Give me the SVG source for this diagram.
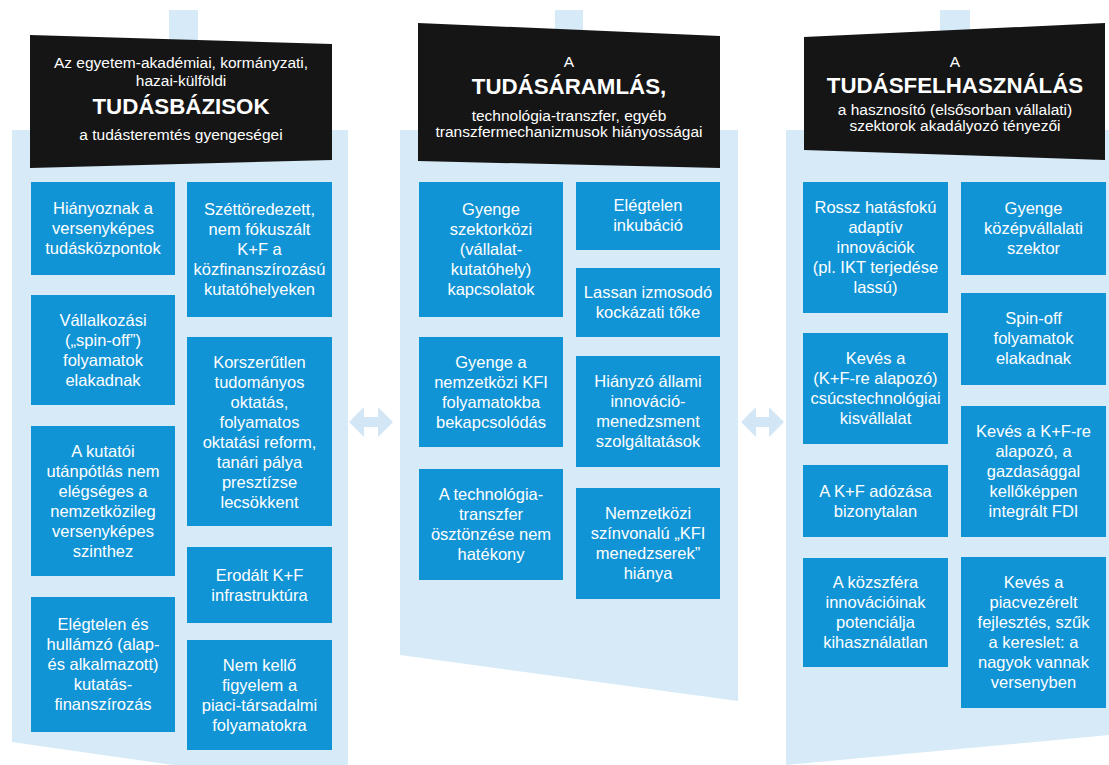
<svg xmlns="http://www.w3.org/2000/svg" width="1109" height="765" viewBox="0 0 1109 765">
<style>
.bg{fill:#d6eaf8}
.hdr{fill:#151515}
.box{fill:#1094d6}
.arr{fill:#d3e6f5}
text{font-family:"Liberation Sans",Arial,sans-serif;fill:#ffffff;text-anchor:middle}
.t{font-size:16.5px}
.hs{font-size:15.5px}
.hb{font-size:22.3px;font-weight:bold}
</style>
<rect width="1109" height="765" fill="#ffffff"/>
<!-- column backgrounds -->
<g id="col-bg">
<rect class="bg" x="169" y="10" width="29" height="130"/>
<polygon class="bg" points="12,130 348,130 348,790 12,742"/>
<rect class="bg" x="555" y="10" width="28" height="130"/>
<polygon class="bg" points="400,130 738,130 738,701 400,655"/>
<rect class="bg" x="940" y="10" width="30" height="130"/>
<polygon class="bg" points="786,130 1109,130 1109,735 786,765"/>
</g>
<!-- headers -->
<g id="hdr-tudasbazisok">
<polygon class="hdr" points="30,35 332,44 332,160 30,168"/>
<text class="hs" x="181" y="68">Az egyetem-akadémiai, kormányzati,</text>
<text class="hs" x="181" y="86">hazai-külföldi</text>
<text class="hb" x="181" y="114">TUDÁSBÁZISOK</text>
<text class="hs" x="181" y="140">a tudásteremtés gyengeségei</text>
</g>
<g id="hdr-tudasaramlas">
<polygon class="hdr" points="418,23 720,36 720,168 418,161"/>
<text class="hs" x="569" y="67">A</text>
<text class="hb" x="569" y="94">TUDÁSÁRAMLÁS,</text>
<text class="hs" x="569" y="121">technológia-transzfer, egyéb</text>
<text class="hs" x="569" y="137">transzfermechanizmusok hiányosságai</text>
</g>
<g id="hdr-tudasfelhasznalas">
<polygon class="hdr" points="804,37 1105,23 1105,160 804,150"/>
<text class="hs" x="955" y="67">A</text>
<text class="hb" x="955" y="93">TUDÁSFELHASZNÁLÁS</text>
<text class="hs" x="955" y="115">a hasznosító (elsősorban vállalati)</text>
<text class="hs" x="955" y="131">szektorok akadályozó tényezői</text>
</g>
<!-- left column boxes -->
<g id="l1"><rect class="box" x="31" y="182" width="144" height="93"/>
<text class="t" x="103" y="214">Hiányoznak a</text><text class="t" x="103" y="234">versenyképes</text><text class="t" x="103" y="254">tudásközpontok</text></g>
<g id="r1"><rect class="box" x="187" y="182" width="145" height="135"/>
<text class="t" x="259.5" y="215">Széttöredezett,</text><text class="t" x="259.5" y="235">nem fókuszált</text><text class="t" x="259.5" y="255">K+F a</text><text class="t" x="259.5" y="275">közfinanszírozású</text><text class="t" x="259.5" y="295">kutatóhelyeken</text></g>
<g id="l2"><rect class="box" x="31" y="295" width="144" height="110"/>
<text class="t" x="103" y="326">Vállalkozási</text><text class="t" x="103" y="346">(„spin-off”)</text><text class="t" x="103" y="366">folyamatok</text><text class="t" x="103" y="386">elakadnak</text></g>
<g id="r2"><rect class="box" x="187" y="337" width="145" height="189"/>
<text class="t" x="259.5" y="368">Korszerűtlen</text><text class="t" x="259.5" y="388">tudományos</text><text class="t" x="259.5" y="408">oktatás,</text><text class="t" x="259.5" y="428">folyamatos</text><text class="t" x="259.5" y="448">oktatási reform,</text><text class="t" x="259.5" y="468">tanári pálya</text><text class="t" x="259.5" y="488">presztízse</text><text class="t" x="259.5" y="508">lecsökkent</text></g>
<g id="l3"><rect class="box" x="31" y="426" width="144" height="150"/>
<text class="t" x="103" y="457">A kutatói</text><text class="t" x="103" y="477">utánpótlás nem</text><text class="t" x="103" y="497">elégséges a</text><text class="t" x="103" y="517">nemzetközileg</text><text class="t" x="103" y="537">versenyképes</text><text class="t" x="103" y="557">szinthez</text></g>
<g id="r3"><rect class="box" x="187" y="547" width="145" height="76"/>
<text class="t" x="259.5" y="581">Erodált K+F</text><text class="t" x="259.5" y="601">infrastruktúra</text></g>
<g id="l4"><rect class="box" x="31" y="597" width="144" height="135"/>
<text class="t" x="103" y="630">Elégtelen és</text><text class="t" x="103" y="650">hullámzó (alap-</text><text class="t" x="103" y="670">és alkalmazott)</text><text class="t" x="103" y="690">kutatás-</text><text class="t" x="103" y="710">finanszírozás</text></g>
<g id="r4"><rect class="box" x="187" y="640" width="145" height="110"/>
<text class="t" x="259.5" y="671">Nem kellő</text><text class="t" x="259.5" y="691">figyelem a</text><text class="t" x="259.5" y="711">piaci-társadalmi</text><text class="t" x="259.5" y="731">folyamatokra</text></g>
<!-- middle column boxes -->
<g id="ml1"><rect class="box" x="419" y="182" width="144" height="135"/>
<text class="t" x="491" y="215">Gyenge</text><text class="t" x="491" y="235">szektorközi</text><text class="t" x="491" y="255">(vállalat-</text><text class="t" x="491" y="275">kutatóhely)</text><text class="t" x="491" y="295">kapcsolatok</text></g>
<g id="mr1"><rect class="box" x="576" y="182" width="144" height="68"/>
<text class="t" x="648" y="211">Elégtelen</text><text class="t" x="648" y="231">inkubáció</text></g>
<g id="mr2"><rect class="box" x="576" y="268" width="144" height="69"/>
<text class="t" x="648" y="298">Lassan izmosodó</text><text class="t" x="648" y="318">kockázati tőke</text></g>
<g id="ml2"><rect class="box" x="419" y="337" width="144" height="110"/>
<text class="t" x="491" y="368">Gyenge a</text><text class="t" x="491" y="388">nemzetközi KFI</text><text class="t" x="491" y="408">folyamatokba</text><text class="t" x="491" y="428">bekapcsolódás</text></g>
<g id="mr3"><rect class="box" x="576" y="356" width="144" height="111"/>
<text class="t" x="648" y="387">Hiányzó állami</text><text class="t" x="648" y="407">innováció-</text><text class="t" x="648" y="427">menedzsment</text><text class="t" x="648" y="447">szolgáltatások</text></g>
<g id="ml3"><rect class="box" x="419" y="469" width="144" height="111"/>
<text class="t" x="491" y="500">A technológia-</text><text class="t" x="491" y="520">transzfer</text><text class="t" x="491" y="540">ösztönzése nem</text><text class="t" x="491" y="560">hatékony</text></g>
<g id="mr4"><rect class="box" x="576" y="488" width="144" height="111"/>
<text class="t" x="648" y="519">Nemzetközi</text><text class="t" x="648" y="539">színvonalú „KFI</text><text class="t" x="648" y="559">menedzserek”</text><text class="t" x="648" y="579">hiánya</text></g>
<!-- right column boxes -->
<g id="rl1"><rect class="box" x="803" y="182" width="145" height="131"/>
<text class="t" x="875.5" y="213">Rossz hatásfokú</text><text class="t" x="875.5" y="233">adaptív</text><text class="t" x="875.5" y="253">innovációk</text><text class="t" x="875.5" y="273">(pl. IKT terjedése</text><text class="t" x="875.5" y="293">lassú)</text></g>
<g id="rr1"><rect class="box" x="961" y="182" width="145" height="93"/>
<text class="t" x="1033.5" y="214">Gyenge</text><text class="t" x="1033.5" y="234">középvállalati</text><text class="t" x="1033.5" y="254">szektor</text></g>
<g id="rr2"><rect class="box" x="961" y="293" width="145" height="92"/>
<text class="t" x="1033.5" y="324">Spin-off</text><text class="t" x="1033.5" y="344">folyamatok</text><text class="t" x="1033.5" y="364">elakadnak</text></g>
<g id="rl2"><rect class="box" x="803" y="333" width="145" height="111"/>
<text class="t" x="875.5" y="364">Kevés a</text><text class="t" x="875.5" y="384">(K+F-re alapozó)</text><text class="t" x="875.5" y="404">csúcstechnológiai</text><text class="t" x="875.5" y="424">kisvállalat</text></g>
<g id="rr3"><rect class="box" x="961" y="406" width="145" height="131"/>
<text class="t" x="1033.5" y="437">Kevés a K+F-re</text><text class="t" x="1033.5" y="457">alapozó, a</text><text class="t" x="1033.5" y="477">gazdasággal</text><text class="t" x="1033.5" y="497">kellőképpen</text><text class="t" x="1033.5" y="517">integrált FDI</text></g>
<g id="rl3"><rect class="box" x="803" y="465" width="145" height="72"/>
<text class="t" x="875.5" y="497">A K+F adózása</text><text class="t" x="875.5" y="517">bizonytalan</text></g>
<g id="rl4"><rect class="box" x="803" y="558" width="145" height="109"/>
<text class="t" x="875.5" y="588">A közszféra</text><text class="t" x="875.5" y="608">innovációinak</text><text class="t" x="875.5" y="628">potenciálja</text><text class="t" x="875.5" y="648">kihasználatlan</text></g>
<g id="rr4"><rect class="box" x="961" y="557" width="145" height="151"/>
<text class="t" x="1033.5" y="588">Kevés a</text><text class="t" x="1033.5" y="608">piacvezérelt</text><text class="t" x="1033.5" y="628">fejlesztés, szűk</text><text class="t" x="1033.5" y="648">a kereslet: a</text><text class="t" x="1033.5" y="668">nagyok vannak</text><text class="t" x="1033.5" y="688">versenyben</text></g>
<!-- connectors -->
<g id="connectors">
<path class="arr" d="M349,422 L364,407 L364,417 L378,417 L378,407 L393,422 L378,437 L378,427 L364,427 L364,437 Z"/>
<path class="arr" d="M741,422 L756,407 L756,417 L769,417 L769,407 L784,422 L769,437 L769,427 L756,427 L756,437 Z"/>
</g>
</svg>
